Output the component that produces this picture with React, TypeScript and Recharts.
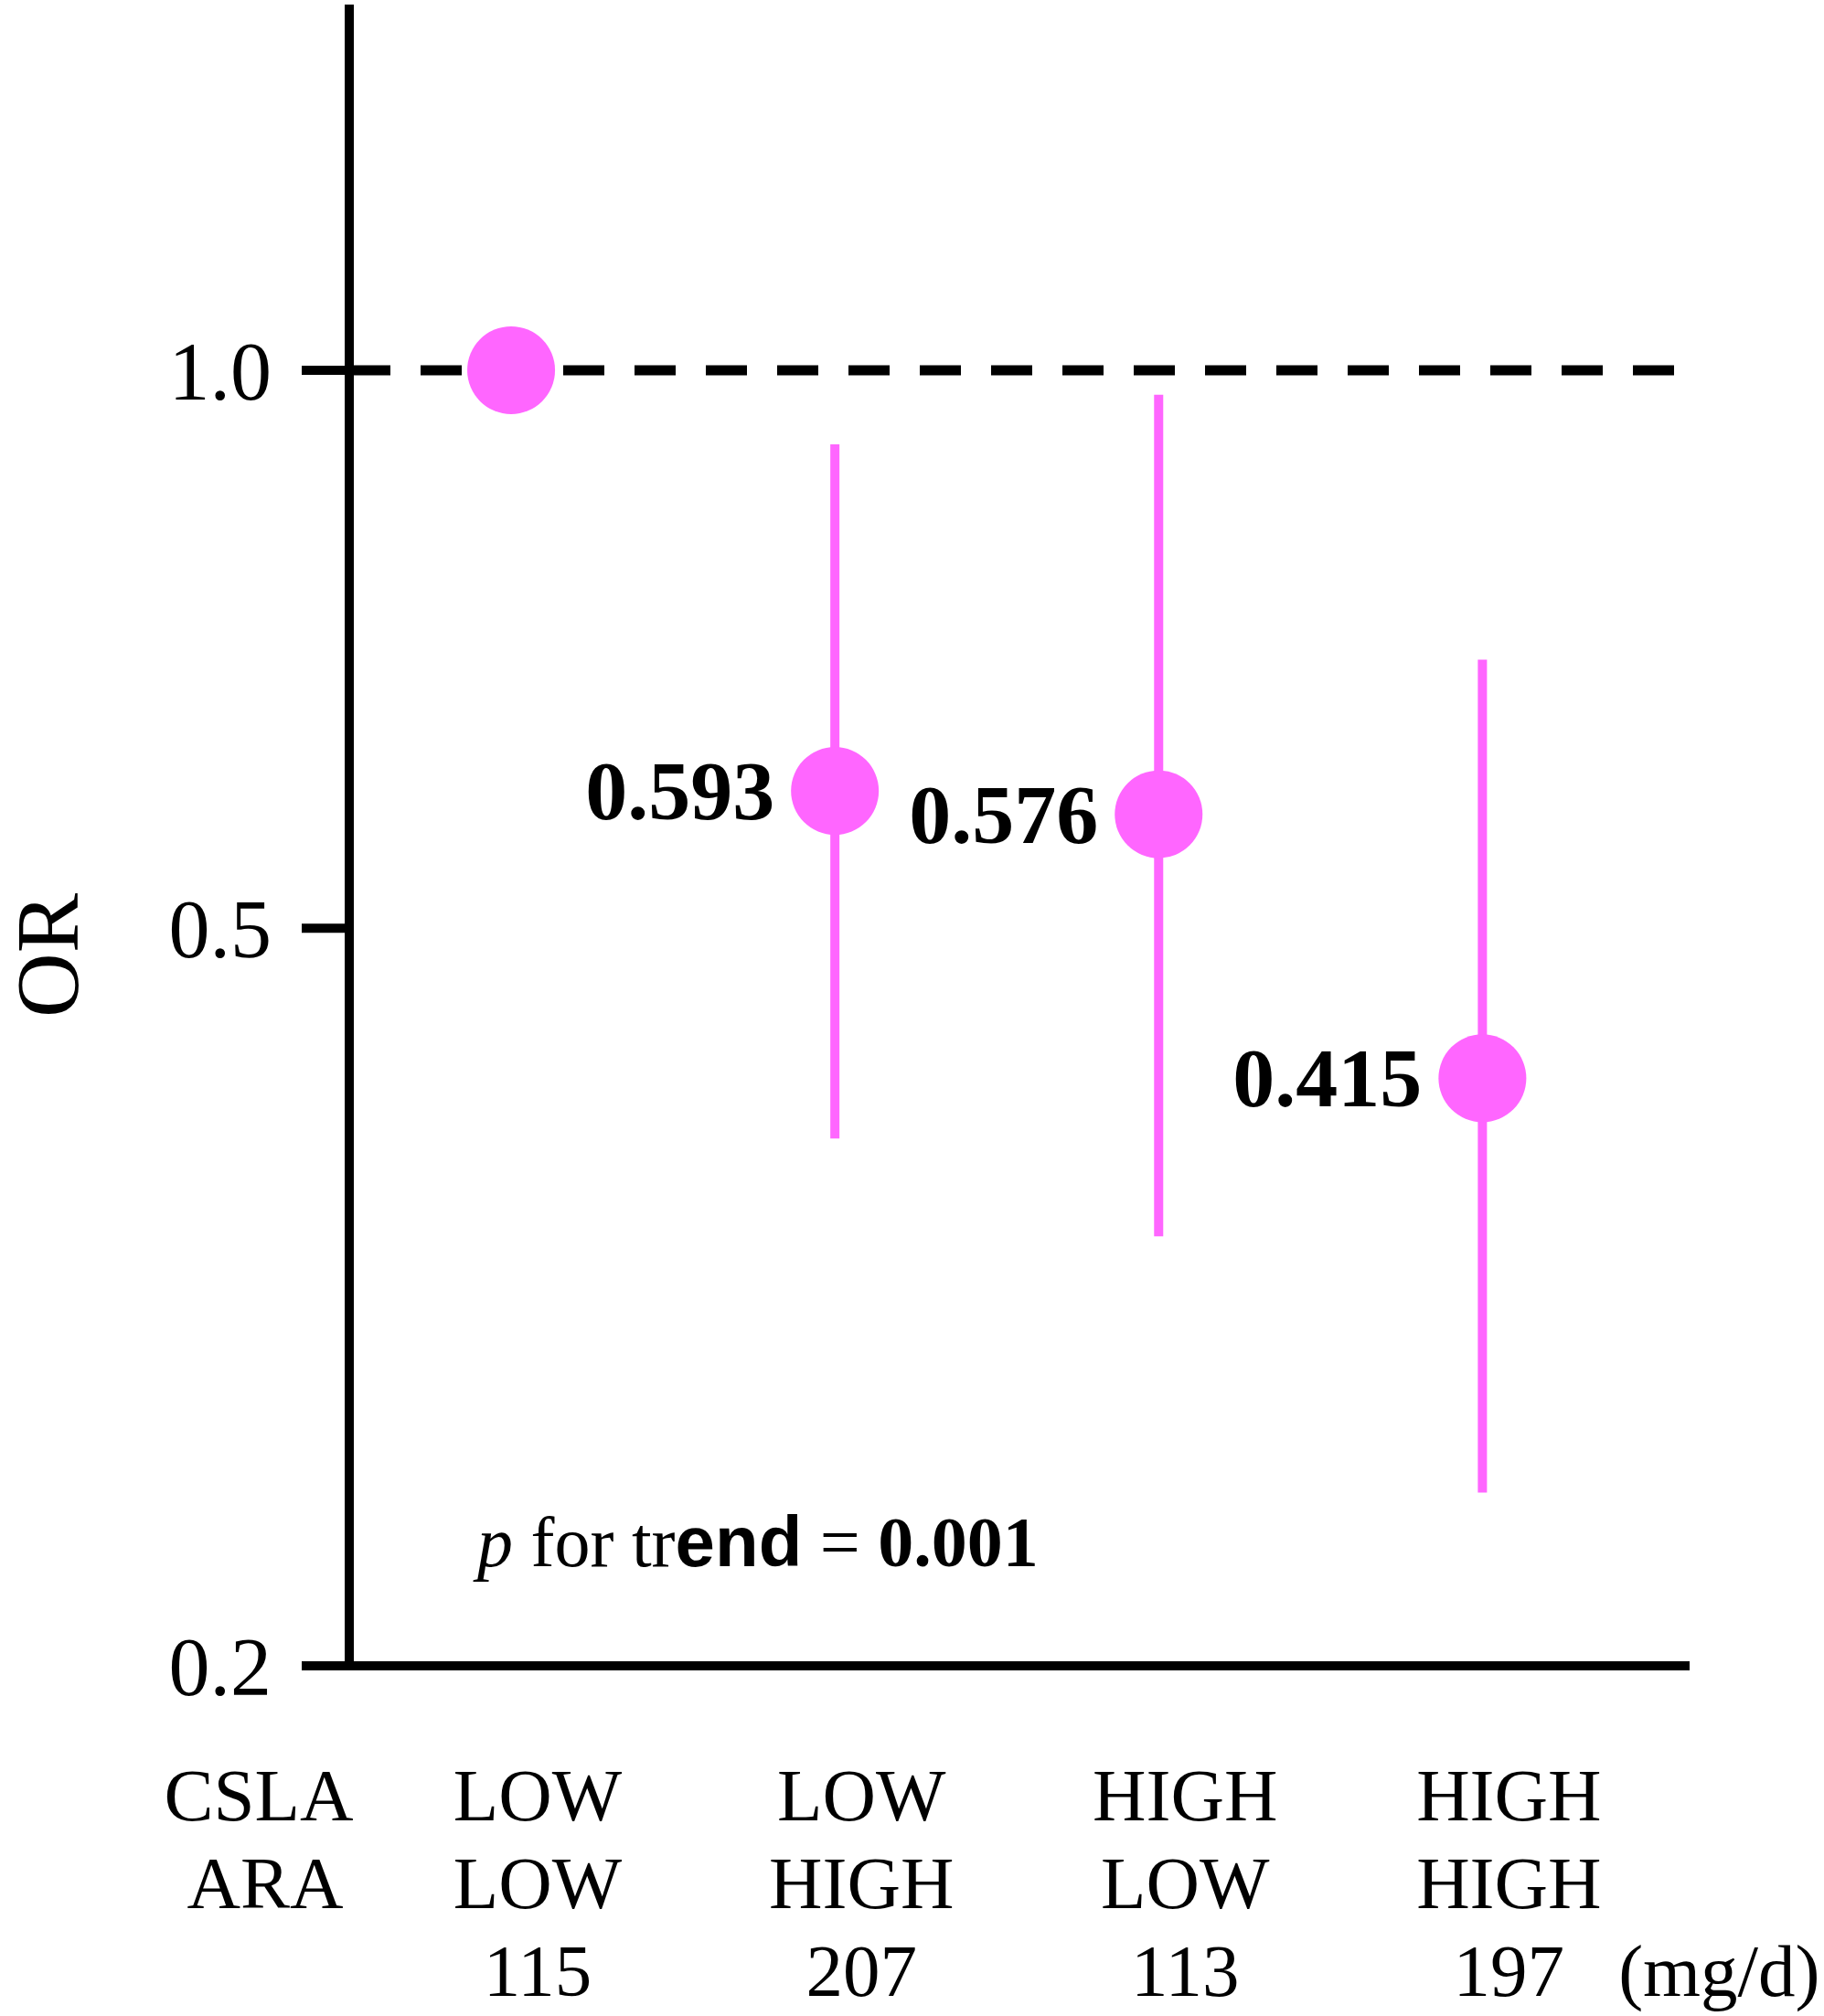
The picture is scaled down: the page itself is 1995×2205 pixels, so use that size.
import React from 'react';
import { ComposedChart, Scatter, ErrorBar, XAxis, YAxis, ReferenceLine, Customized } from 'recharts';

const SERIF = '"Liberation Serif", "Times New Roman", serif';
const PINK = '#ff66ff';

// one entry per intake group (CSLA x ARA)
const groups = [1, 2, 3, 4];
const orValues = [1.0, 0.593, 0.576, 0.415];
const ciLower = [1.0, 0.385, 0.341, 0.248];
const ciUpper = [1.0, 0.912, 0.97, 0.698];
const cslaLevels = ['LOW', 'LOW', 'HIGH', 'HIGH'];
const araLevels = ['LOW', 'HIGH', 'LOW', 'HIGH'];
const araIntake = ['115', '207', '113', '197'];
const yTicks = [0.2, 0.5, 1.0];

const data = groups.map((g, i) => ({
    group: g,
    or: orValues[i],
    ci: [orValues[i] - ciLower[i], ciUpper[i] - orValues[i]],
    label: i === 0 ? '' : orValues[i].toFixed(3),
}));

// circle + bold value label on its left
const PointShape = (props: any) => {
    const { cx, cy, payload } = props;
    return (
        <g>
            <circle cx={cx} cy={cy} r={48} fill={PINK} />
            {payload.label && (
                <text x={cx - 66} y={cy} textAnchor="end" dominantBaseline="central"
                    fontFamily={SERIF} fontWeight="bold" fontSize={92} fill="#000">
                    {payload.label}
                </text>
            )}
        </g>
    );
};

const GroupTick = (props: any) => {
    const { x, y, index } = props;
    const cx = x + 29;
    const txt = { fontFamily: SERIF, fontSize: 81, fill: '#000', textAnchor: 'middle' as const };
    return (
        <g>
            {index === 0 && (
                <>
                    <text x={x - 276} y={y + 161} {...txt}>CSLA</text>
                    <text x={x - 269} y={y + 257} {...txt}>ARA</text>
                </>
            )}
            <text x={cx} y={y + 161} {...txt}>{cslaLevels[index]}</text>
            <text x={cx} y={y + 257} {...txt}>{araLevels[index]}</text>
            <text x={cx} y={y + 353} {...txt}>{araIntake[index]}</text>
            {index === groups.length - 1 && (
                <text x={x + 259} y={y + 353} {...txt}>(mg/d)</text>
            )}
        </g>
    );
};

const TrendNote = () => (
    <text x={522} y={1713} fontFamily={SERIF} fontSize={78} fill="#000">
        <tspan fontStyle="italic">p</tspan>
        <tspan> for tr</tspan>
        <tspan fontFamily='"Liberation Sans", Arial, sans-serif' fontWeight="bold">end</tspan>
        <tspan> = </tspan>
        <tspan fontWeight="bold">0.001</tspan>
    </text>
);

export default function App() {
    return (
        <div style={{ position: 'absolute', left: 0, top: 0, width: 1995, height: 2205, background: '#fff' }}>
            <ComposedChart width={1995} height={2205} data={data}
                margin={{ top: 5, right: 147, bottom: 0, left: 0 }}>
                <XAxis
                    type="number"
                    dataKey="group"
                    domain={[0.5, 4.64]}
                    ticks={groups}
                    height={383}
                    axisLine={{ stroke: '#000', strokeWidth: 10 }}
                    tickLine={false}
                    tick={<GroupTick />}
                    interval={0}
                />
                <YAxis
                    scale="log"
                    domain={[0.2, 1.575]}
                    ticks={yTicks}
                    allowDataOverflow
                    width={382}
                    axisLine={{ stroke: '#000', strokeWidth: 10 }}
                    tickLine={{ stroke: '#000', strokeWidth: 10 }}
                    tickSize={52}
                    tickMargin={33}
                    tickFormatter={(v: number) => v.toFixed(1)}
                    tick={{ fontFamily: SERIF, fontSize: 90, fill: '#000' }}
                    label={{
                        content: () => (
                            <text x={85} y={1045} transform="rotate(-90 85 1045)" textAnchor="middle"
                                fontFamily={SERIF} fontSize={98} fill="#000">OR</text>
                        ),
                    }}
                />
                <ReferenceLine y={1} stroke="#000" strokeWidth={11} strokeDasharray="45 33" />
                <Scatter dataKey="or" shape={<PointShape />} isAnimationActive={false}>
                    <ErrorBar dataKey="ci" direction="y" width={0} stroke={PINK} strokeWidth={10} isAnimationActive={false} />
                </Scatter>
                <Customized component={TrendNote} />
            </ComposedChart>
        </div>
    );
}
